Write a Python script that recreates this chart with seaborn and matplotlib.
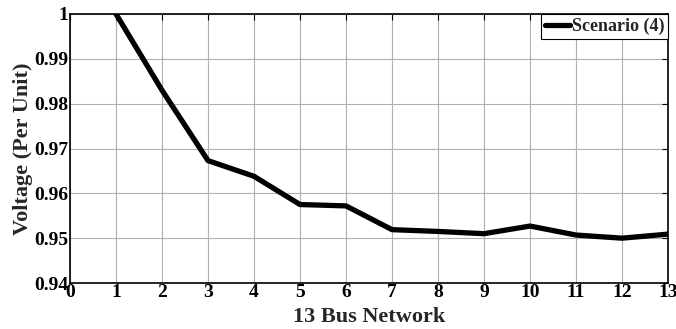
import matplotlib
matplotlib.use("Agg")
import matplotlib.pyplot as plt
import seaborn as sns
import pandas as pd

bus = [1, 2, 3, 4, 5, 6, 7, 8, 9, 10, 11, 12, 13]
voltage = [1.0, 0.983, 0.9673, 0.9638, 0.9575, 0.9572, 0.9519, 0.9515, 0.9510,
           0.9527, 0.9507, 0.9500, 0.9509]
series_name = "Scenario (4)"
x_ticks = list(range(0, 14))
y_ticks = [0.94, 0.95, 0.96, 0.97, 0.98, 0.99, 1.0]
y_tick_labels = ["0.94", "0.95", "0.96", "0.97", "0.98", "0.99", "1"]

sns.set_style("white")
plt.rcParams["font.family"] = ["Liberation Serif", "DejaVu Serif"]
plt.rcParams["font.weight"] = "bold"

df = pd.DataFrame({"bus": bus, "voltage": voltage, "series": series_name})

fig = plt.figure(figsize=(6.76, 3.29), dpi=100)
ax = fig.add_axes([70 / 676, 1 - 283 / 329, (668 - 70) / 676, (283 - 14) / 329])

sns.lineplot(data=df, x="bus", y="voltage", hue="series", palette=["black"],
             linewidth=3.8, ax=ax)

ax.set_xlim(0, 13)
ax.set_ylim(0.94, 1.0)
ax.set_xticks(x_ticks)
ax.set_xticklabels([str(t) for t in x_ticks], fontsize=14, fontweight="bold")
ax.set_yticks(y_ticks)
ax.set_yticklabels(y_tick_labels, fontsize=14, fontweight="bold")
ax.grid(True, color="#b0b0b0", linewidth=0.8)
ax.tick_params(direction="in", length=4, width=0.8, top=True, right=True,
               pad=1, colors="black")
for s in ax.spines.values():
    s.set_color("black")
    s.set_linewidth(1.2)

ax.set_xlabel("13 Bus Network", fontsize=16, fontweight="bold", labelpad=4)
ax.set_ylabel("Voltage (Per Unit)", fontsize=16, fontweight="bold", labelpad=1)

leg = ax.legend(loc="upper right", frameon=True, fancybox=False,
                borderpad=0.2, handlelength=1.4, handletextpad=0.1,
                borderaxespad=0.0, prop={"weight": "bold", "size": 13})
leg.get_frame().set_edgecolor("black")
leg.get_frame().set_linewidth(0.8)
leg.get_frame().set_alpha(1)

fig.savefig("out.png", dpi=100)
